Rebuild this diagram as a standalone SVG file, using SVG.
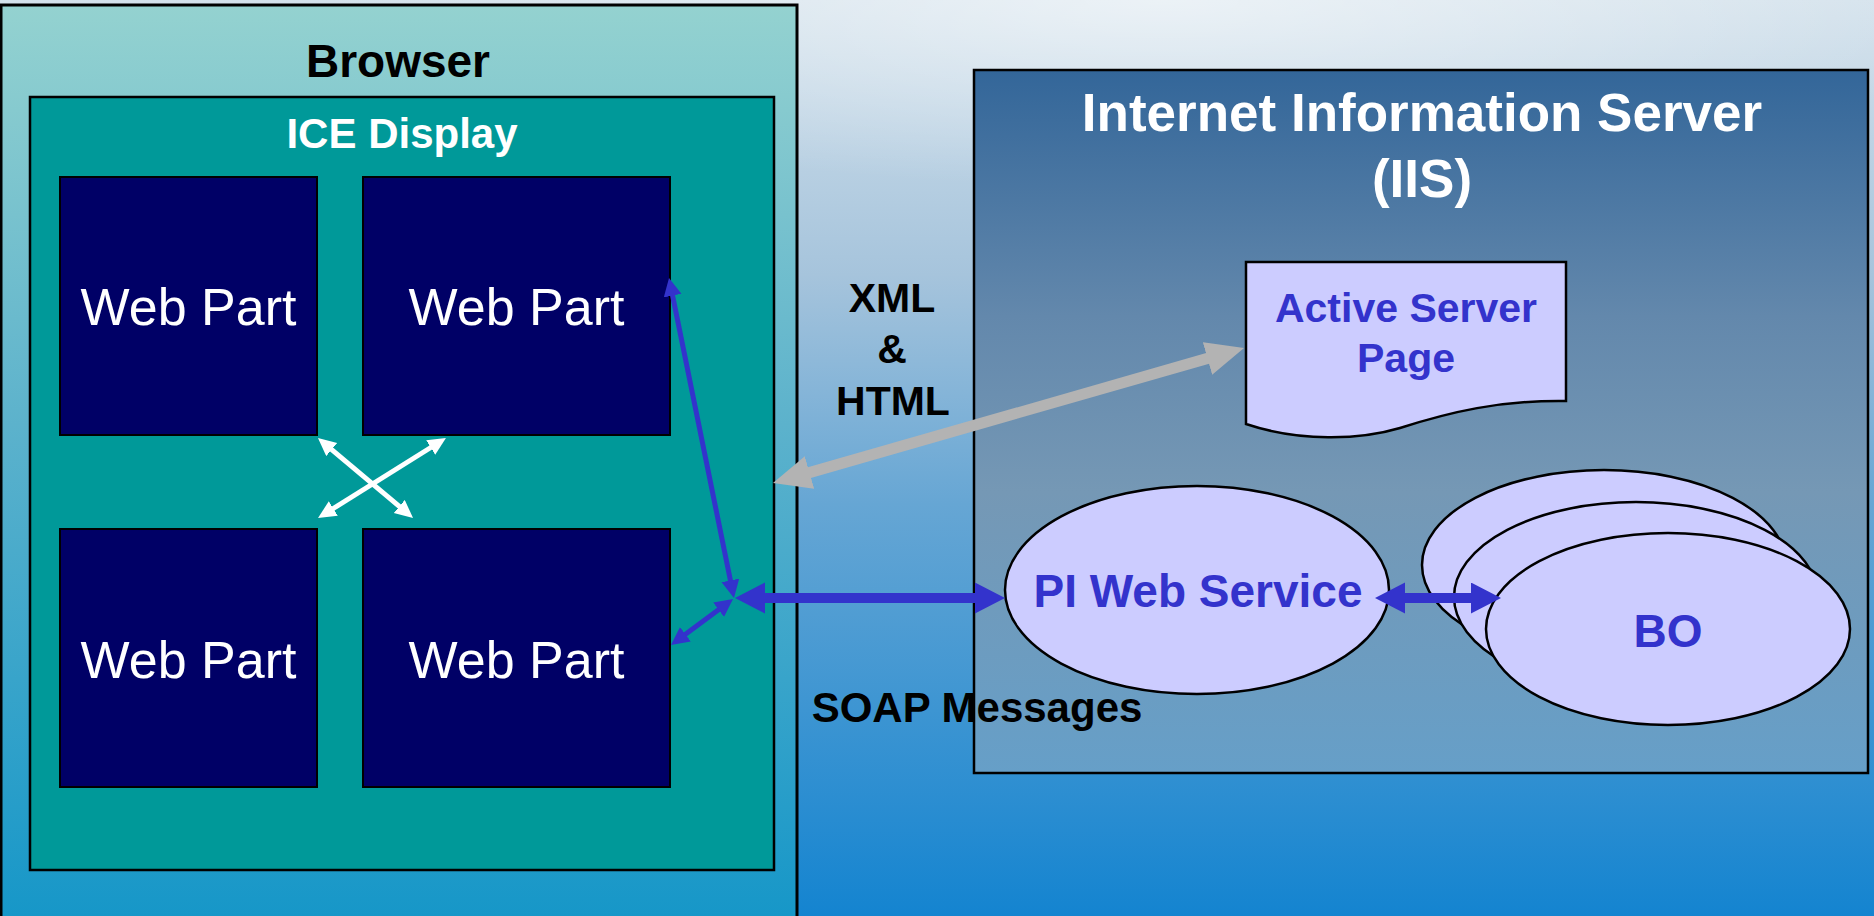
<svg xmlns="http://www.w3.org/2000/svg" width="1874" height="916" viewBox="0 0 1874 916">
<defs>
<linearGradient id="bg" x1="0" y1="0" x2="0" y2="1">
<stop offset="0" stop-color="#d4e2ec"/>
<stop offset="0.3" stop-color="#a6c4dc"/>
<stop offset="0.55" stop-color="#66a6d4"/>
<stop offset="1" stop-color="#1484d0"/>
</linearGradient>
<radialGradient id="glow" cx="0.62" cy="0" r="0.45">
<stop offset="0" stop-color="#ffffff" stop-opacity="0.55"/>
<stop offset="1" stop-color="#ffffff" stop-opacity="0"/>
</radialGradient>
<linearGradient id="brg" x1="0" y1="0" x2="0" y2="1">
<stop offset="0" stop-color="#94d2d0"/>
<stop offset="0.45" stop-color="#5cb2cc"/>
<stop offset="1" stop-color="#1496c8"/>
</linearGradient>
<linearGradient id="iisg" x1="0" y1="0" x2="0" y2="1">
<stop offset="0" stop-color="#336699"/>
<stop offset="0.35" stop-color="#6388ac"/>
<stop offset="0.6" stop-color="#7598b5"/>
<stop offset="1" stop-color="#669fc8"/>
</linearGradient>
<marker id="hb" markerUnits="userSpaceOnUse" markerWidth="32" markerHeight="32" refX="2" refY="15.5" orient="auto-start-reverse">
<path d="M0,0 L30,15.5 L0,31 Z" fill="#3333cc"/>
</marker>
<marker id="hs" markerUnits="userSpaceOnUse" markerWidth="20" markerHeight="20" refX="2" refY="9" orient="auto-start-reverse">
<path d="M0,0 L18,9 L0,18 Z" fill="#3333cc"/>
</marker>
<marker id="hw" markerUnits="userSpaceOnUse" markerWidth="20" markerHeight="20" refX="2" refY="8.5" orient="auto-start-reverse">
<path d="M0,0 L18,8.5 L0,17 Z" fill="#ffffff"/>
</marker>
<marker id="hg" markerUnits="userSpaceOnUse" markerWidth="40" markerHeight="36" refX="2" refY="17" orient="auto-start-reverse">
<path d="M0,0 L38,17 L0,34 Z" fill="#b3b3b3"/>
</marker>
<style>
text{font-family:"Liberation Sans",Arial,sans-serif;text-anchor:middle}
.b{font-weight:bold}
.wp{fill:#000066;stroke:#000000;stroke-width:2}
.wpt{fill:#ffffff;font-size:52px}
.lav{fill:#ccccff;stroke:#000000;stroke-width:2.5}
.blue{fill:#3333cc}
</style>
</defs>
<rect x="0" y="0" width="1874" height="916" fill="url(#bg)"/>
<rect x="0" y="0" width="1874" height="420" fill="url(#glow)"/>

<g id="browser">
<rect x="1" y="5" width="796" height="930" fill="url(#brg)" stroke="#000000" stroke-width="3"/>
<text x="398" y="77" class="b" font-size="46" fill="#000000">Browser</text>
</g>

<g id="ice-display">
<rect x="30" y="97" width="744" height="773" fill="#009999" stroke="#000000" stroke-width="2.5"/>
<text x="402" y="148" class="b" font-size="42" fill="#ffffff">ICE Display</text>
</g>

<g id="webpart1">
<rect x="60" y="177" width="257" height="258" class="wp"/>
<text x="188.5" y="325" class="wpt">Web Part</text>
</g>
<g id="webpart2">
<rect x="363" y="177" width="307" height="258" class="wp"/>
<text x="516.5" y="325" class="wpt">Web Part</text>
</g>
<g id="webpart3">
<rect x="60" y="529" width="257" height="258" class="wp"/>
<text x="188.5" y="678" class="wpt">Web Part</text>
</g>
<g id="webpart4">
<rect x="363" y="529" width="307" height="258" class="wp"/>
<text x="516.5" y="678" class="wpt">Web Part</text>
</g>

<g id="iis">
<rect x="974" y="70" width="894" height="703" fill="url(#iisg)" stroke="#000000" stroke-width="2.5"/>
<text x="1422" y="131" class="b" font-size="53" fill="#ffffff">Internet Information Server</text>
<text x="1422" y="197" class="b" font-size="53" fill="#ffffff">(IIS)</text>
</g>

<g id="asp">
<path d="M1246,262 H1566 V401 C1500,400 1450,412 1400,428 C1360,440 1300,442 1246,424 Z" class="lav"/>
<text x="1406" y="322" class="b blue" font-size="41">Active Server</text>
<text x="1406" y="372" class="b blue" font-size="41">Page</text>
</g>

<g id="pi-web-service">
<ellipse cx="1197" cy="590" rx="192" ry="104" class="lav"/>
<text x="1198" y="607" class="b blue" font-size="46">PI Web Service</text>
</g>

<g id="bo">
<ellipse cx="1604" cy="565" rx="182" ry="95" class="lav"/>
<ellipse cx="1636" cy="597" rx="182" ry="95" class="lav"/>
<ellipse cx="1668" cy="629" rx="182" ry="96" class="lav"/>
<text x="1668" y="647" class="b blue" font-size="46">BO</text>
</g>

<g id="connectors" fill="none">
<line x1="330.2" y1="448.3" x2="400.8" y2="507.7" stroke="#ffffff" stroke-width="5" marker-start="url(#hw)" marker-end="url(#hw)"/>
<line x1="432.4" y1="446.5" x2="331.6" y2="509.5" stroke="#ffffff" stroke-width="5" marker-start="url(#hw)" marker-end="url(#hw)"/>
<line x1="672.2" y1="293.7" x2="730.8" y2="582.3" stroke="#3333cc" stroke-width="5" marker-start="url(#hs)" marker-end="url(#hs)"/>
<line x1="683.8" y1="635.5" x2="720.2" y2="608.5" stroke="#3333cc" stroke-width="5" marker-start="url(#hs)" marker-end="url(#hs)"/>
<line x1="763" y1="598" x2="977" y2="598" stroke="#3333cc" stroke-width="10" marker-start="url(#hb)" marker-end="url(#hb)"/>
<line x1="1403" y1="598" x2="1473" y2="598" stroke="#3333cc" stroke-width="10" marker-start="url(#hb)" marker-end="url(#hb)"/>
<line x1="807.6" y1="473.1" x2="1209.4" y2="357.9" stroke="#b3b3b3" stroke-width="11" marker-start="url(#hg)" marker-end="url(#hg)"/>
</g>

<g id="labels">
<text x="892" y="312" class="b" font-size="41" fill="#000000">XML</text>
<text x="892" y="363" class="b" font-size="41" fill="#000000">&amp;</text>
<text x="893" y="415" class="b" font-size="41" fill="#000000">HTML</text>
<text x="977" y="722" class="b" font-size="42" fill="#000000">SOAP Messages</text>
</g>
</svg>
